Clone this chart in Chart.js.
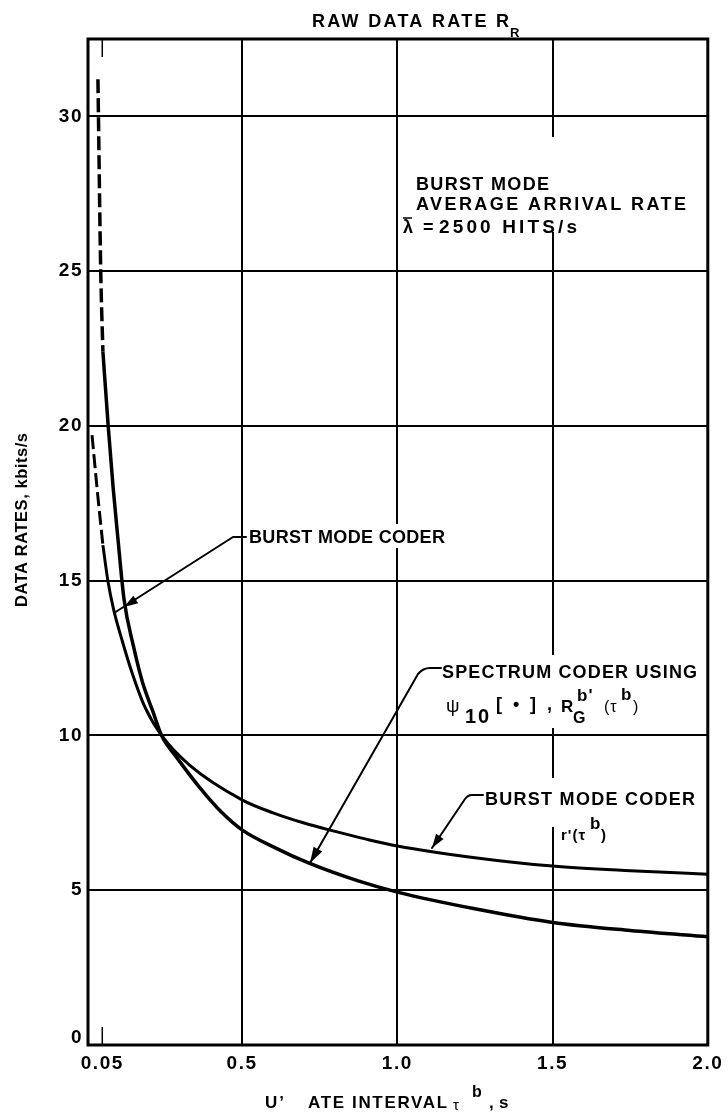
<!DOCTYPE html>
<html>
<head>
<meta charset="utf-8">
<script src="https://cdn.jsdelivr.net/npm/chart.js@4/dist/chart.umd.min.js"></script>
<style>
  html, body { margin: 0; padding: 0; background: #fff; }
  canvas { display: block; }
</style>
</head>
<body>
<canvas id="c" width="728" height="1117"></canvas>
<script>
// ---------------- DATA ----------------
const xTicks = [0.05, 0.5, 1.0, 1.5, 2.0];
const xTickLabels = ['0.05', '0.5', '1.0', '1.5', '2.0'];
const yTicks = [0, 5, 10, 15, 20, 25, 30];
const yTickLabels = ['0', '5', '10', '15', '20', '25', '30'];

// Spectrum coder using psi10[.], R_G^b'(tau^b)  (steep curve)
const spectrumDashX = [0.036, 0.045, 0.052];
const spectrumDashY = [31.2, 25.0, 22.4];
const spectrumX = [0.052, 0.069, 0.085, 0.100, 0.120, 0.150, 0.180, 0.212, 0.241, 0.289, 0.362, 0.436, 0.500, 0.609, 0.714, 0.874, 1.000, 1.250, 1.500, 1.750, 2.000];
const spectrumY = [22.4, 20.0, 18.0, 16.4, 14.4, 12.9, 11.7, 10.8, 10.0, 9.3, 8.34, 7.5, 6.95, 6.36, 5.88, 5.3, 4.94, 4.4, 3.96, 3.7, 3.5];

// Burst mode coder r'(tau^b)
const burstDashX = [0.017, 0.036, 0.052];
const burstDashY = [19.7, 17.7, 16.15];
const burstX = [0.052, 0.068, 0.087, 0.113, 0.145, 0.187, 0.241, 0.330, 0.500, 0.600, 0.700, 0.800, 0.900, 1.000, 1.250, 1.500, 1.750, 2.000];
const burstY = [16.15, 15.0, 14.05, 13.1, 12.05, 10.92, 10.0, 9.05, 7.92, 7.5, 7.17, 6.9, 6.65, 6.43, 6.05, 5.78, 5.63, 5.52];

// ---------------- HELPERS ----------------
const FONT = '"Liberation Sans", Arial, Helvetica, sans-serif';
const zip = (xs, ys) => xs.map((x, i) => ({ x: x, y: ys[i] }));

function setFont(ctx, size, weight) {
  ctx.font = (weight || 'bold') + ' ' + size + 'px ' + FONT;
}
// draw text spread to a given width (letter spacing)
function fit(ctx, t, x, y, w, size, weight) {
  setFont(ctx, size, weight);
  ctx.letterSpacing = '0px';
  const m = ctx.measureText(t).width;
  const ls = t.length > 1 ? (w - m) / (t.length - 1) : 0;
  ctx.letterSpacing = ls.toFixed(2) + 'px';
  ctx.fillText(t, x, y);
  ctx.letterSpacing = '0px';
}
function txt(ctx, t, x, y, size, weight, ls) {
  setFont(ctx, size, weight);
  ctx.letterSpacing = (ls || 0) + 'px';
  ctx.fillText(t, x, y);
  ctx.letterSpacing = '0px';
}

function head(ctx, tx, ty, fx, fy, len, hw) {
  const a = Math.atan2(ty - fy, tx - fx);
  ctx.beginPath();
  ctx.moveTo(tx, ty);
  ctx.lineTo(tx - len * Math.cos(a) + hw * Math.sin(a), ty - len * Math.sin(a) - hw * Math.cos(a));
  ctx.lineTo(tx - len * Math.cos(a) - hw * Math.sin(a), ty - len * Math.sin(a) + hw * Math.cos(a));
  ctx.closePath();
  ctx.fill();
}

const decor = {
  id: 'decor',
  beforeDraw(chart) {
    chart.ctx.letterSpacing = '1.5px';
  },
  afterDraw(chart) {
    const ctx = chart.ctx;
    const a = chart.chartArea;
    const xs = chart.scales.x;
    ctx.save();
    ctx.strokeStyle = '#000';

    // white gaps in gridlines behind the notes
    ctx.fillStyle = '#fff';
    ctx.fillRect(398, 137, 300, 95);
    ctx.fillRect(438, 655, 262, 73);
    ctx.fillRect(480, 778, 220, 49);
    ctx.fillRect(246, 524, 200, 24);
    ctx.fillStyle = '#000';

    // frame
    ctx.lineWidth = 3;
    ctx.strokeRect(a.left, a.top, a.right - a.left, a.bottom - a.top);

    // short ticks at 0.05
    const p05 = xs.getPixelForValue(xTicks[0]);
    ctx.lineWidth = 1.5;
    ctx.beginPath();
    ctx.moveTo(p05, a.bottom); ctx.lineTo(p05, a.bottom - 18);
    ctx.moveTo(p05, a.top); ctx.lineTo(p05, a.top + 18);
    ctx.stroke();

    ctx.textAlign = 'left';
    ctx.textBaseline = 'alphabetic';

    // top title
    fit(ctx, 'RAW DATA RATE R', 312, 27, 197, 18);
    txt(ctx, 'R', 510, 37, 13, 'bold');

    // burst mode block
    fit(ctx, 'BURST MODE', 416, 190, 133, 18);
    fit(ctx, 'AVERAGE ARRIVAL RATE', 416, 210, 270, 18);
    txt(ctx, 'λ', 403, 233, 18, 'bold');
    txt(ctx, '=', 423, 233, 18, 'bold');
    fit(ctx, '2500 HITS/s', 439, 233, 138, 19);
    ctx.lineWidth = 1.5;
    ctx.beginPath(); ctx.moveTo(403, 218); ctx.lineTo(412, 218); ctx.stroke();

    // left burst mode coder label
    fit(ctx, 'BURST MODE CODER', 249, 543, 196, 18);

    // spectrum label
    fit(ctx, 'SPECTRUM CODER USING', 442, 678, 255, 18);
    txt(ctx, 'ψ', 446, 712, 19, 'normal');
    txt(ctx, '10', 465, 723, 20, 'bold', 2);
    fit(ctx, '[•],', 496, 710, 56, 18);
    txt(ctx, 'R', 561, 712, 17, 'bold');
    txt(ctx, 'G', 573, 723, 16, 'bold');
    txt(ctx, "b'", 577, 701, 17, 'bold', 1);
    txt(ctx, '(τ', 604, 712, 16, 'normal', 1);
    txt(ctx, 'b', 621, 700, 17, 'bold');
    txt(ctx, ')', 633, 712, 16, 'normal');

    // right burst mode coder label
    fit(ctx, 'BURST MODE CODER', 485, 805, 210, 18);
    txt(ctx, "r'(τ", 561, 840, 15, 'bold', 1);
    txt(ctx, 'b', 590, 829, 17, 'bold');
    txt(ctx, ')', 601, 840, 15, 'bold');

    // leaders
    ctx.lineWidth = 2;
    ctx.lineJoin = 'round';
    ctx.lineCap = 'round';
    // left BMC
    ctx.beginPath();
    ctx.moveTo(246, 537); ctx.lineTo(233, 537); ctx.lineTo(114, 613);
    ctx.stroke();
    head(ctx, 124, 607, 233, 537, 14, 4.5);
    // spectrum
    ctx.beginPath();
    ctx.moveTo(441, 668); ctx.lineTo(430, 668);
    ctx.quadraticCurveTo(423, 668, 418, 674);
    ctx.lineTo(310, 863);
    ctx.stroke();
    head(ctx, 310, 863, 418, 674, 16, 5);
    // right BMC
    ctx.beginPath();
    ctx.moveTo(483, 795); ctx.lineTo(472, 795);
    ctx.quadraticCurveTo(468, 795, 465, 799);
    ctx.lineTo(432, 848);
    ctx.stroke();
    head(ctx, 432, 848, 465, 799, 14, 4.5);

    // x axis title
    txt(ctx, 'U’', 265, 1108, 17, 'bold', 2);
    fit(ctx, 'ATE INTERVAL', 308, 1108, 139, 17);
    txt(ctx, 'τ', 453, 1110, 15, 'normal');
    txt(ctx, 'b', 472, 1097, 16, 'bold');
    txt(ctx, ',', 489, 1108, 17, 'bold');
    txt(ctx, 's', 499, 1108, 17, 'bold');

    // y axis title
    ctx.save();
    ctx.translate(27, 607);
    ctx.rotate(-Math.PI / 2);
    fit(ctx, 'DATA RATES, kbits/s', 0, 0, 174, 16.5);
    ctx.restore();

    ctx.restore();
  }
};

const lineBase = {
  borderColor: '#000',
  pointRadius: 0,
  fill: false,
  cubicInterpolationMode: 'monotone'
};

new Chart(document.getElementById('c'), {
  type: 'line',
  data: {
    datasets: [
      Object.assign({}, lineBase, { label: 'Spectrum coder (dashed)', data: zip(spectrumDashX, spectrumDashY), borderWidth: 3.5, borderDash: [14, 5] }),
      Object.assign({}, lineBase, { label: 'Spectrum coder', data: zip(spectrumX, spectrumY), borderWidth: 3.5 }),
      Object.assign({}, lineBase, { label: 'Burst mode coder (dashed)', data: zip(burstDashX, burstDashY), borderWidth: 3, borderDash: [14, 5] }),
      Object.assign({}, lineBase, { label: 'Burst mode coder', data: zip(burstX, burstY), borderWidth: 3 })
    ]
  },
  options: {
    responsive: false,
    devicePixelRatio: 1,
    animation: false,
    events: [],
    layout: { padding: { top: 39, right: 16, left: 0, bottom: 0 } },
    plugins: { legend: { display: false }, tooltip: { enabled: false }, title: { display: false } },
    scales: {
      x: {
        type: 'linear',
        min: 0.004,
        max: 2.0,
        afterBuildTicks: (s) => { s.ticks = xTicks.map(v => ({ value: v })); },
        afterFit: (s) => { s.height = 72; },
        border: { display: false },
        grid: {
          drawTicks: false,
          lineWidth: 2,
          color: (c) => (c.tick && c.tick.value === xTicks[0]) ? 'rgba(0,0,0,0)' : '#000'
        },
        ticks: {
          autoSkip: false,
          maxRotation: 0,
          padding: 7,
          color: '#000',
          font: { family: FONT, size: 19, weight: 'bold' },
          callback: (v) => { const i = xTicks.indexOf(v); return i >= 0 ? xTickLabels[i] : ''; }
        }
      },
      y: {
        type: 'linear',
        min: 0,
        max: 32.5,
        afterBuildTicks: (s) => { s.ticks = yTicks.map(v => ({ value: v })); },
        afterFit: (s) => { s.width = 88; },
        border: { display: false },
        grid: { drawTicks: false, lineWidth: 2, color: '#000' },
        ticks: {
          autoSkip: false,
          padding: 5,
          color: '#000',
          font: (c) => ({ family: FONT, size: 19, weight: 'bold', lineHeight: (c.tick && c.tick.value === yTicks[0]) ? 0.75 : 1.2 }),
          callback: (v) => {
            const i = yTicks.indexOf(v);
            if (i < 0) return '';
            return v === yTicks[0] ? [yTickLabels[i], ''] : yTickLabels[i];
          }
        }
      }
    }
  },
  plugins: [decor]
});
</script>
</body>
</html>
